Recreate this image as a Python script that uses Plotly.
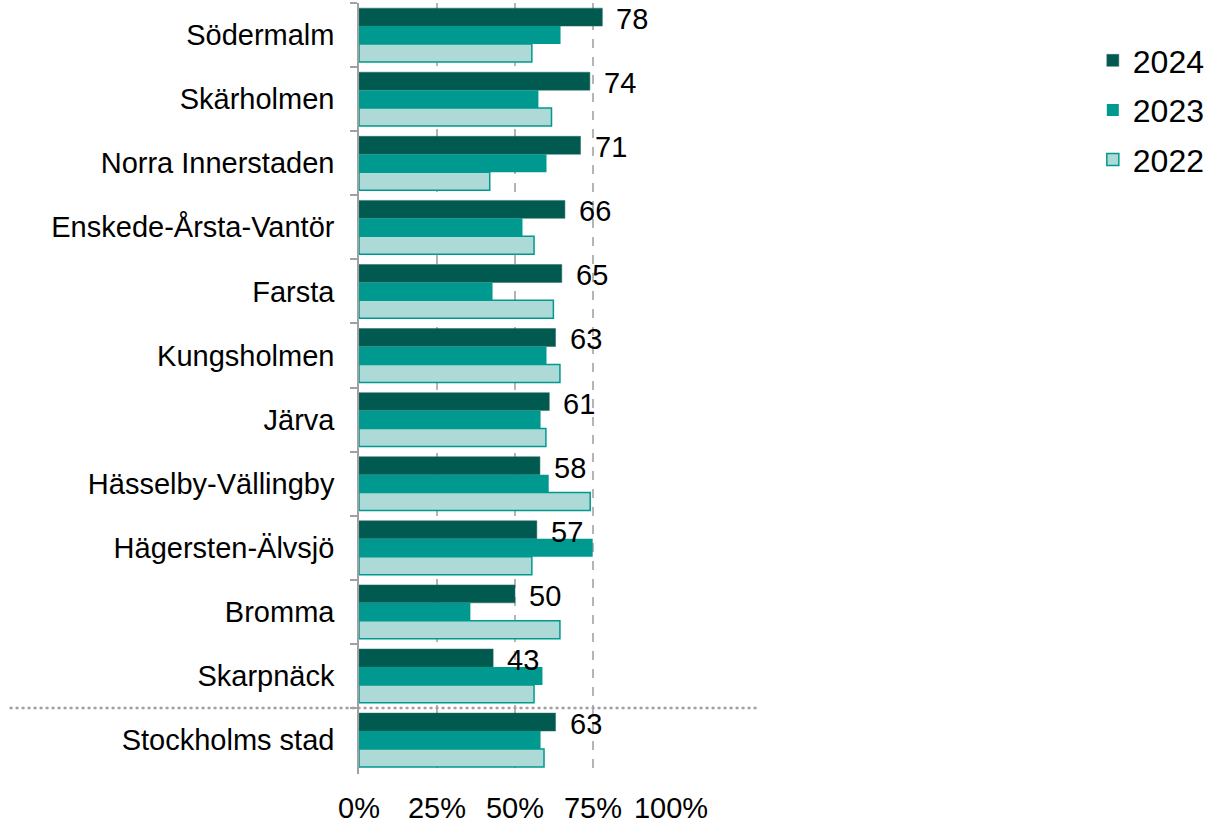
import plotly.graph_objects as go

categories = ["Södermalm", "Skärholmen", "Norra Innerstaden", "Enskede-Årsta-Vantör",
              "Farsta", "Kungsholmen", "Järva", "Hässelby-Vällingby",
              "Hägersten-Älvsjö", "Bromma", "Skarpnäck", "Stockholms stad"]
v2024 = [78, 74, 71, 66, 65, 63, 61, 58, 57, 50, 43, 63]
v2023 = [64.6, 57.5, 60.1, 52.4, 42.8, 60.1, 58.2, 60.8, 74.9, 35.7, 58.8, 58.2]
v2022 = [55.4, 61.7, 41.9, 56.1, 62.3, 64.4, 59.9, 74.1, 55.4, 64.4, 56.1, 59.3]
tick_vals = [0, 25, 50, 75, 100]
tick_text = ["0%", "25%", "50%", "75%", "100%"]

FONT = "Liberation Sans, Arial, sans-serif"
C24 = "#005A4F"
C23 = "#00998F"
C22 = "#ADDAD6"

fig = go.Figure()
fig.add_trace(go.Bar(y=categories, x=v2024, name="2024", orientation="h",
                     marker=dict(color=C24, line=dict(color="#2E6B63", width=0.5)),
                     legendgroup="a"))
fig.add_trace(go.Bar(y=categories, x=v2023, name="2023", orientation="h",
                     marker=dict(color=C23, line=dict(width=0)),
                     legendgroup="b"))
fig.add_trace(go.Bar(y=categories, x=v2022, name="2022", orientation="h",
                     marker=dict(color=C22, line=dict(color=C23, width=1.5)),
                     legendgroup="c"))

for cat, v in zip(categories, v2024):
    fig.add_annotation(x=v, y=cat, text=str(v), showarrow=False, xanchor="left",
                       xshift=12, yshift=16, font=dict(family=FONT, size=29, color="black"))

# separator line above the total row
fig.add_shape(type="line", xref="paper", yref="y", x0=-1.12, x1=1.277, y0=10.5, y1=10.5,
              line=dict(color="#A0A0A0", width=2.5, dash="dot"))

fig.update_layout(
    width=1220, height=826,
    margin=dict(l=359, r=549, t=3, b=52, autoexpand=False),
    paper_bgcolor="white", plot_bgcolor="white",
    barmode="group", bargap=0.16, bargroupgap=0,
    font=dict(family=FONT, size=29, color="black"),
    showlegend=True,
    legend=dict(x=2.352, y=0.961, xanchor="left", yanchor="top",
                font=dict(family=FONT, size=32, color="black"),
                tracegroupgap=5, traceorder="grouped"),
    xaxis=dict(range=[0, 100], tickvals=tick_vals, ticktext=tick_text, automargin=False,
               showgrid=True, gridcolor="#B4B4B4", griddash="dash", gridwidth=1.5,
               zeroline=False, showline=False, ticks="", ticklabelstandoff=14,
               tickfont=dict(family=FONT, size=29, color="black")),
    yaxis=dict(autorange="reversed", showline=True, linecolor="#A0A0A0", linewidth=1.5,
               automargin=False,
               ticks="outside", tickson="boundaries", ticklen=7, tickcolor="#A0A0A0",
               tickwidth=1.5, showgrid=False, ticklabelstandoff=17,
               tickfont=dict(family=FONT, size=29, color="black")),
)

fig.write_html("out.html", config={"displayModeBar": False},
               post_script="document.body.style.margin='0';")
